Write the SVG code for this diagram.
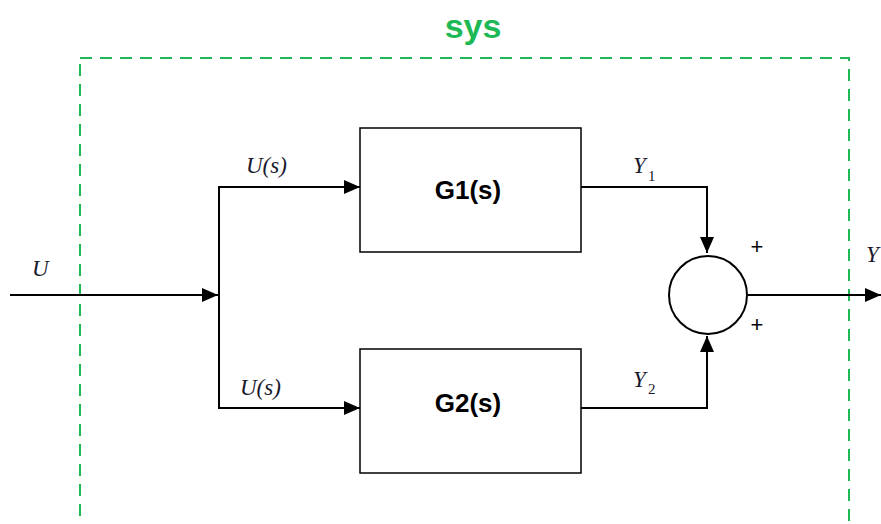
<svg xmlns="http://www.w3.org/2000/svg" width="881" height="524" viewBox="0 0 881 524">
<style>
.ln{fill:none;stroke:#000;stroke-width:2}
.box{fill:#fff;stroke:#000;stroke-width:1.5}
.math{font-family:"Liberation Serif",serif;font-style:italic;font-size:23px;fill:#1a1a2e}
.sub{font-family:"Liberation Serif",serif;font-size:15px;fill:#1a1a2e}
.lbl{font-family:"Liberation Sans",Arial,sans-serif;font-weight:bold;font-size:26px;fill:#000;text-anchor:middle}
.pl{font-family:"Liberation Sans",Arial,sans-serif;font-size:22px;fill:#000;text-anchor:middle}
</style>
<defs>
<marker id="ahL" markerWidth="16" markerHeight="14" refX="16" refY="7" orient="auto" markerUnits="userSpaceOnUse" viewBox="0 0 16 14">
<path d="M0,0 L16,7 L0,14 Z" fill="#000"/>
</marker>
</defs>
<rect width="881" height="524" fill="#fff"/>
<g id="sys">
<rect x="80" y="58" width="769" height="520" fill="none" stroke="#1db954" stroke-width="2" stroke-dasharray="12,8"/>
<text x="473" y="38" font-family="Liberation Sans,Arial,sans-serif" font-weight="bold" font-size="34" fill="#1db954" text-anchor="middle">sys</text>
</g>
<g id="connectors">
<path class="ln" d="M10,295 H218" marker-end="url(#ahL)"/>
<path class="ln" d="M219,186 V409"/>
<path class="ln" d="M218,187 H360" marker-end="url(#ahL)"/>
<path class="ln" d="M218,408 H360" marker-end="url(#ahL)"/>
<path class="ln" d="M581,187 H707 V253" marker-end="url(#ahL)"/>
<path class="ln" d="M581,408 H707 V336" marker-end="url(#ahL)"/>
<path class="ln" d="M748,295 H881" marker-end="url(#ahL)"/>
</g>
<g id="G1">
<rect class="box" x="360" y="128" width="221" height="124"/>
<text class="lbl" x="468" y="199">G1(s)</text>
</g>
<g id="G2">
<rect class="box" x="360" y="349" width="221" height="124"/>
<text class="lbl" x="468" y="412">G2(s)</text>
</g>
<g id="sum">
<circle cx="708" cy="295" r="39" fill="#fff" stroke="#000" stroke-width="2"/>
<text class="pl" x="757" y="254">+</text>
<text class="pl" x="757" y="332">+</text>
</g>
<g id="labels">
<text class="math" x="32" y="276">U</text>
<text class="math" x="246" y="173">U(s)</text>
<text class="math" x="240" y="395">U(s)</text>
<text class="math" x="633" y="173">Y</text><text class="sub" x="648" y="181">1</text>
<text class="math" x="633" y="387">Y</text><text class="sub" x="648" y="394">2</text>
<text class="math" x="866" y="262">Y</text>
</g>
</svg>
